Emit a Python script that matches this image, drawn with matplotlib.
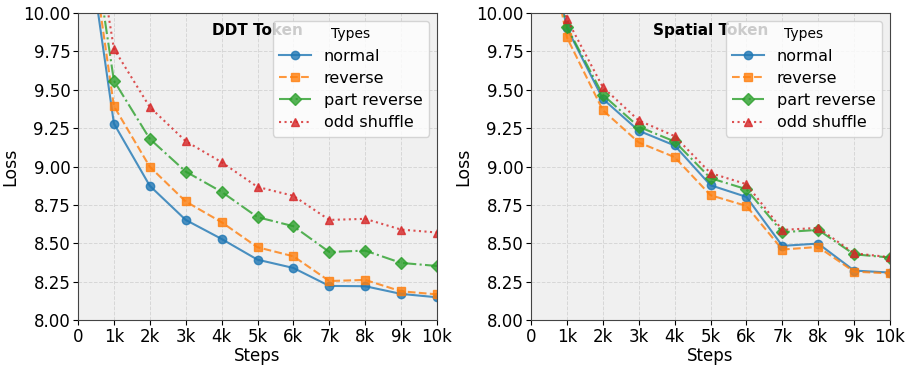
import matplotlib.pyplot as plt
import numpy as np

# steps in k (0 = start of training)
steps = [0, 1, 2, 3, 4, 5, 6, 7, 8, 9, 10]
types = ['normal', 'reverse', 'part reverse', 'odd shuffle']

# DDT token losses
ddt_normal = [10.92, 9.28, 8.874, 8.652, 8.528, 8.393, 8.339, 8.222, 8.220, 8.170, 8.148]
ddt_reverse = [11.03, 9.393, 8.998, 8.772, 8.637, 8.474, 8.415, 8.254, 8.261, 8.187, 8.167]
ddt_part = [11.13, 9.559, 9.180, 8.967, 8.835, 8.670, 8.611, 8.443, 8.452, 8.372, 8.352]
ddt_odd = [11.22, 9.767, 9.387, 9.165, 9.028, 8.867, 8.809, 8.652, 8.659, 8.589, 8.570]

# Spatial token losses
sp_normal = [11.0, 9.902, 9.441, 9.233, 9.137, 8.878, 8.802, 8.483, 8.498, 8.322, 8.309]
sp_reverse = [11.0, 9.841, 9.367, 9.157, 9.061, 8.813, 8.743, 8.459, 8.476, 8.315, 8.304]
sp_part = [11.0, 9.909, 9.467, 9.259, 9.163, 8.924, 8.852, 8.572, 8.587, 8.428, 8.407]
sp_odd = [11.0, 9.961, 9.517, 9.300, 9.198, 8.957, 8.885, 8.587, 8.600, 8.435, 8.409]

tick_labels = ['0', '1k', '2k', '3k', '4k', '5k', '6k', '7k', '8k', '9k', '10k']

styles = [('o', '-', '#1f77b4'), ('s', '--', '#ff7f0e'),
          ('D', '-.', '#2ca02c'), ('^', ':', '#d62728')]

fig = plt.figure(figsize=(9.13, 3.66), dpi=100)
ax1 = fig.add_axes([78/913, 46/366, 359/913, 307/366])
ax2 = fig.add_axes([531/913, 46/366, 359/913, 307/366])

panels = [(ax1, 'DDT Token', [ddt_normal, ddt_reverse, ddt_part, ddt_odd]),
          (ax2, 'Spatial Token', [sp_normal, sp_reverse, sp_part, sp_odd])]

for ax, title, series in panels:
    ax.set_facecolor('#f0f0f0')
    for name, ys, (m, ls, c) in zip(types, series, styles):
        ax.plot(steps, ys, marker=m, linestyle=ls, color=c, label=name,
                markersize=6, linewidth=1.5, alpha=0.8)
    ax.set_xlim(0, 10)
    ax.set_ylim(8.0, 10.0)
    ax.set_xticks(steps)
    ax.set_xticklabels(tick_labels)
    ax.set_yticks(np.arange(8.0, 10.01, 0.25))
    ax.tick_params(labelsize=12, pad=2)
    ax.grid(True, linestyle='--', color='#d0d0d0', linewidth=0.7, alpha=0.8)
    ax.set_xlabel('Steps', fontsize=12, labelpad=1)
    ax.set_ylabel('Loss', fontsize=12.5, labelpad=3)
    ax.text(0.5, 0.943, title, transform=ax.transAxes, ha='center', va='center',
            fontsize=11, fontweight='bold')
    for s in ax.spines.values():
        s.set_color('#444444')
    leg = ax.legend(title='Types', fontsize=11.5, title_fontsize=10, loc='upper right',
                    labelspacing=0.45)

fig.savefig('out.png', dpi=100)
